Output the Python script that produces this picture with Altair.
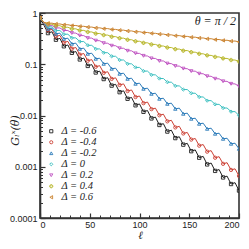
import altair as alt
import pandas as pd

# sampled ell positions (every 4 sites)
ell = list(range(0, 201, 4))

labels = ["Δ = -0.6", "Δ = -0.4", "Δ = -0.2", "Δ = 0", "Δ = 0.2", "Δ = 0.4", "Δ = 0.6"]
colors = ["#1e1e1e", "#cc4034", "#2a7ab9", "#3cbfc0", "#c054c2", "#b9b82e", "#c9812c"]
shapes = ["square", "circle", "triangle-up", "diamond", "triangle-down", "cross", "triangle-left"]

g_m06 = [0.80, 0.577, 0.405, 0.430, 0.301, 0.320, 0.224, 0.238, 0.167, 0.177, 0.124, 0.132,
         0.0927, 0.0984, 0.0690, 0.0733, 0.0514, 0.0546, 0.0383, 0.0406, 0.0285, 0.0303,
         0.0212, 0.0225, 0.0158, 0.0168, 0.0118, 0.0125, 0.00877, 0.00931, 0.00653, 0.00693,
         0.00486, 0.00516, 0.00362, 0.00385, 0.00270, 0.00286, 0.00201, 0.00213, 0.00150,
         0.00159, 0.00111, 0.00118, 0.000830, 0.000881, 0.000618, 0.000656, 0.000460,
         0.000489, 0.000343]
g_m04 = [0.80, 0.632, 0.459, 0.481, 0.349, 0.366, 0.266, 0.279, 0.202, 0.212, 0.154, 0.162,
         0.117, 0.123, 0.0893, 0.0938, 0.0680, 0.0714, 0.0518, 0.0543, 0.0394, 0.0414,
         0.0300, 0.0315, 0.0229, 0.0240, 0.0174, 0.0183, 0.0133, 0.0139, 0.0101, 0.0106,
         0.00769, 0.00806, 0.00585, 0.00614, 0.00446, 0.00467, 0.00339, 0.00356, 0.00258,
         0.00271, 0.00197, 0.00206, 0.00150, 0.00157, 0.00114, 0.00120, 0.000867,
         0.000910, 0.000661]
g_m02 = [0.80, 0.633, 0.492, 0.506, 0.394, 0.404, 0.314, 0.322, 0.251, 0.258, 0.200, 0.206,
         0.160, 0.164, 0.128, 0.131, 0.102, 0.105, 0.0817, 0.0838, 0.0652, 0.0668,
         0.0520, 0.0534, 0.0416, 0.0427, 0.0332, 0.0341, 0.0265, 0.0272, 0.0212, 0.0217,
         0.0169, 0.0174, 0.0135, 0.0139, 0.0108, 0.0111, 0.00863, 0.00885, 0.00689,
         0.00707, 0.00550, 0.00565, 0.00440, 0.00451, 0.00351, 0.00360, 0.00281,
         0.00288, 0.00224]
g_0 = [0.80, 0.634, 0.537, 0.537, 0.455, 0.455, 0.385, 0.385, 0.327, 0.327, 0.277, 0.277,
       0.234, 0.234, 0.199, 0.199, 0.168, 0.168, 0.143, 0.143, 0.121, 0.121,
       0.102, 0.102, 0.0867, 0.0867, 0.0735, 0.0735, 0.0622, 0.0622, 0.0527, 0.0527,
       0.0447, 0.0447, 0.0378, 0.0378, 0.0321, 0.0321, 0.0272, 0.0272, 0.0230,
       0.0230, 0.0195, 0.0195, 0.0165, 0.0165, 0.0140, 0.0140, 0.0119,
       0.0119, 0.0100]
g_p02 = [0.80, 0.641, 0.573, 0.573, 0.512, 0.511, 0.456, 0.455, 0.407, 0.406, 0.363, 0.362,
         0.324, 0.324, 0.289, 0.288, 0.258, 0.257, 0.230, 0.230, 0.205, 0.205,
         0.183, 0.183, 0.163, 0.163, 0.146, 0.145, 0.130, 0.130, 0.116, 0.116,
         0.103, 0.103, 0.0923, 0.0920, 0.0822, 0.0820, 0.0734, 0.0733, 0.0655,
         0.0653, 0.0584, 0.0583, 0.0521, 0.0520, 0.0465, 0.0464, 0.0415,
         0.0414, 0.0370]
g_p04 = [0.80, 0.650, 0.605, 0.605, 0.564, 0.565, 0.526, 0.527, 0.490, 0.491, 0.457, 0.458,
         0.427, 0.427, 0.397, 0.398, 0.371, 0.371, 0.345, 0.346, 0.322, 0.323,
         0.301, 0.301, 0.280, 0.281, 0.261, 0.262, 0.243, 0.244, 0.227, 0.227,
         0.212, 0.212, 0.197, 0.198, 0.184, 0.185, 0.172, 0.172, 0.160,
         0.160, 0.149, 0.149, 0.139, 0.139, 0.130, 0.130, 0.121,
         0.121, 0.113]
g_p06 = [0.80, 0.657, 0.630, 0.634, 0.609, 0.612, 0.588, 0.591, 0.568, 0.571, 0.548, 0.551,
         0.530, 0.532, 0.511, 0.514, 0.494, 0.496, 0.477, 0.479, 0.460, 0.463,
         0.445, 0.447, 0.429, 0.432, 0.414, 0.417, 0.400, 0.402, 0.386, 0.388,
         0.373, 0.375, 0.360, 0.362, 0.348, 0.350, 0.336, 0.338, 0.324,
         0.326, 0.313, 0.315, 0.302, 0.304, 0.292, 0.294, 0.282,
         0.284, 0.272]

series = [g_m06, g_m04, g_m02, g_0, g_p02, g_p04, g_p06]

rows = []
for k, (lab, vals) in enumerate(zip(labels, series)):
    for i, (l, v) in enumerate(zip(ell, vals)):
        rows.append({"ell": l, "g": v, "delta": lab, "k": k, "mk": 1 if i % 2 == 0 else 0})
df = pd.DataFrame(rows)

W, H = 199, 205

x_major = [0, 50, 100, 150, 200]
x_minor = [10, 20, 30, 40, 60, 70, 80, 90, 110, 120, 130, 140, 160, 170, 180, 190]
y_major = [0.0001, 0.001, 0.01, 0.1, 1]
y_minor = [m * d for d in [0.0001, 0.001, 0.01, 0.1] for m in [2, 3, 4, 5, 6, 7, 8, 9]]

xs = alt.Scale(domain=[0, 200], nice=False, zero=False)
ys = alt.Scale(type="log", domain=[0.0001, 1], nice=False)
col = alt.Scale(domain=labels, range=colors)
shp = alt.Scale(domain=labels, range=shapes)

AX = "#333333"

main_x = alt.Axis(orient="bottom", values=x_major, ticks=False, grid=False, domainColor=AX,
                  domainWidth=1.6, labelFont="Liberation Sans", labelFontSize=9,
                  labelColor="#222222", labelPadding=2, format="d",
                  title="ℓ", titleFont="Liberation Serif", titleFontStyle="italic",
                  titleFontSize=11, titleFontWeight="normal", titleX=100, titleY=20,
                  titleBaseline="alphabetic", titleColor="#222222")
main_y = alt.Axis(orient="left", values=y_major, ticks=False, grid=False, domainColor=AX,
                  domainWidth=1.6, labelFont="Liberation Sans", labelFontSize=9,
                  labelColor="#222222", labelPadding=3, format="~g",
                  title="Gₗˣ(θ)", titleFont="DejaVu Serif", titleFontStyle="italic",
                  titleFontSize=11, titleFontWeight="normal", titleX=-25, titleY=117,
                  titleAngle=270, titleAlign="center", titleBaseline="middle",
                  titleColor="#222222")

tick_x_major = alt.Axis(orient="top", offset=-H, values=x_major, labels=False, domain=False,
                        grid=False, ticks=True, tickSize=5, tickColor=AX, tickWidth=1.2, title=None)
tick_y_major = alt.Axis(orient="right", offset=-W, values=y_major, labels=False, domain=False,
                        grid=False, ticks=True, tickSize=5, tickColor=AX, tickWidth=1.2, title=None)
tick_x_minor = alt.Axis(orient="top", offset=-H, values=x_minor, labels=False, domain=False,
                        grid=False, ticks=True, tickSize=3, tickColor=AX, tickWidth=1, title=None)
tick_y_minor = alt.Axis(orient="right", offset=-W, values=y_minor, labels=False, domain=False,
                        grid=False, ticks=True, tickSize=2.5, tickColor=AX, tickWidth=1, title=None)

base = alt.Chart(df)

lines = base.mark_line(strokeWidth=1, clip=True).encode(
    x=alt.X("ell:Q", scale=xs, axis=main_x),
    y=alt.Y("g:Q", scale=ys, axis=main_y),
    color=alt.Color("delta:N", scale=col, legend=None),
    detail="k:N",
    order="ell:Q",
)

legend = alt.Legend(orient="none", legendX=6, legendY=113, title=None, padding=0,
                    labelFont="Liberation Serif", labelFontStyle="italic", labelFontSize=10.5,
                    labelColor="#222222", labelOffset=5, rowPadding=-1, symbolSize=10,
                    symbolStrokeWidth=0.9, symbolFillColor="white")

points = base.transform_filter(alt.datum.mk == 1).mark_point(
    filled=False, size=11, strokeWidth=0.9, opacity=1, clip=True
).encode(
    x=alt.X("ell:Q", scale=xs, axis=tick_x_major),
    y=alt.Y("g:Q", scale=ys, axis=tick_y_major),
    color=alt.Color("delta:N", scale=col, legend=legend),
    shape=alt.Shape("delta:N", scale=shp, legend=legend),
)

minor = base.mark_point(opacity=0).encode(
    x=alt.X("ell:Q", scale=xs, axis=tick_x_minor),
    y=alt.Y("g:Q", scale=ys, axis=tick_y_minor),
)

note = alt.Chart(pd.DataFrame({"t": ["θ = π / 2"]})).mark_text(
    font="Liberation Serif", fontStyle="italic", fontSize=12, align="right",
    baseline="middle", color="#222222"
).encode(x=alt.value(W - 3), y=alt.value(8), text="t:N")

chart = alt.layer(lines, points, minor, note).resolve_axis(
    x="independent", y="independent"
).resolve_legend(
    color="independent", shape="independent"
).properties(
    width=W, height=H,
    autosize=alt.AutoSizeParams(type="none"),
    padding={"left": 32, "top": 5, "right": 2, "bottom": 23},
).configure_view(stroke=AX, strokeWidth=1.6)

chart.save("out.html", embed_options={"renderer": "svg", "actions": False})
